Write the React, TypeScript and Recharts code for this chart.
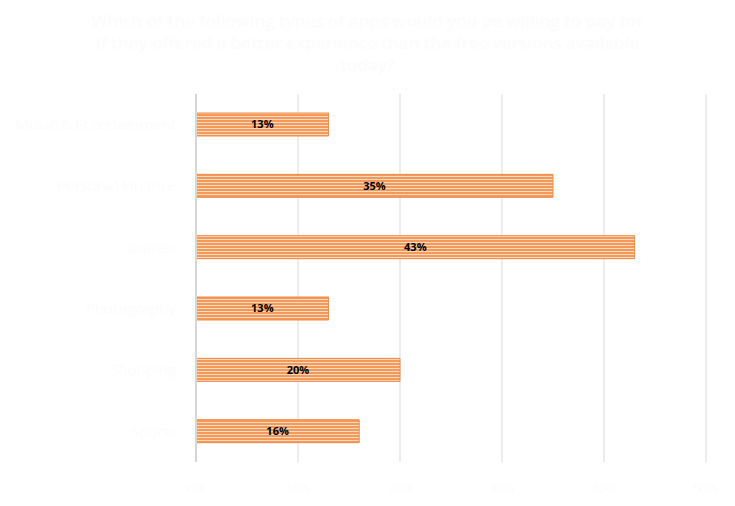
import React from "react";
import { BarChart, Bar, XAxis, YAxis, CartesianGrid, LabelList } from "recharts";

const categories = [
  "Music & Entertainment",
  "Personal Finance",
  "Games",
  "Photography",
  "Shopping",
  "Sports",
];
const shares = [13, 35, 43, 13, 20, 16];
const xTicks = [0, 10, 20, 30, 40, 50];
const titleLines = [
  "Which of the following types of apps would you be willing to pay for",
  "if they offered a better experience than the free versions available",
  "today?",
];

const data = categories.map((name, i) => ({ name, value: shares[i] }));

const faint = "#fcfcfc";

export default function App() {
  return (
    <div style={{ position: "absolute", left: 0, top: 0, width: 735, height: 506, background: "#fff" }}>
      <div
        style={{
          position: "absolute",
          left: 0,
          top: 10,
          width: 735,
          textAlign: "center",
          fontFamily: "'Open Sans', sans-serif",
          fontWeight: 600,
          fontSize: 17,
          lineHeight: "22px",
          color: faint,
        }}
      >
        {titleLines.map((t, i) => (
          <div key={i}>{t}</div>
        ))}
      </div>
      <BarChart
        width={735}
        height={506}
        data={data}
        layout="vertical"
        margin={{ top: 94, right: 29, bottom: 4, left: 0 }}
        barCategoryGap="31%"
      >
        <defs>
          <pattern id="stripes" patternUnits="userSpaceOnUse" width="6" height="3">
            <rect x="0" y="0" width="6" height="3" fill="#f39a5b" />
            <rect x="0" y="2" width="6" height="1" fill="#fcd9bf" />
          </pattern>
        </defs>
        <CartesianGrid horizontal={false} stroke="#d9d9d9" />
        <XAxis
          type="number"
          domain={[0, 50]}
          ticks={xTicks}
          tickFormatter={(v: number) => `${v}%`}
          axisLine={false}
          tickLine={false}
          height={40}
          tickMargin={16}
          tick={{ fill: faint, fontSize: 13, fontFamily: "'Open Sans', sans-serif" }}
        />
        <YAxis
          type="category"
          dataKey="name"
          width={196}
          axisLine={{ stroke: "#d6d6d6", strokeWidth: 2 }}
          tickLine={false}
          tickMargin={14}
          tick={{ fill: faint, fontSize: 15, fontFamily: "'Open Sans', sans-serif" }}
        />
        <Bar dataKey="value" fill="url(#stripes)" stroke="#f08a44" strokeWidth={1} isAnimationActive={false}>
          <LabelList
            dataKey="value"
            position="center"
            formatter={(v: number) => `${v}%`}
            fill="#000"
            fontSize={11}
            fontWeight={700}
            fontFamily="'Open Sans', sans-serif"
          />
        </Bar>
      </BarChart>
    </div>
  );
}
